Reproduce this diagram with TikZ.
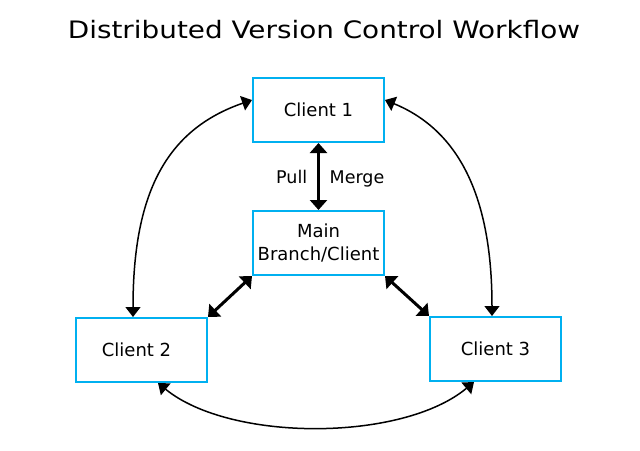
\documentclass[tikz,border=0pt]{standalone}
\usepackage{fontspec}
\setmainfont{DejaVu Sans}
\usetikzlibrary{arrows.meta,calc}
\definecolor{boxblue}{HTML}{00B0F0}
\begin{document}
\begin{tikzpicture}[x=1pt,y=-1pt,
  box/.style={draw=boxblue, line width=2pt, minimum width=131pt, minimum height=64pt,
    inner sep=0pt, font=\fontsize{18}{23}\selectfont, align=center},
  curvearrow/.style={line width=1.5pt, {Triangle[length=10pt,width=15pt]}-{Triangle[length=10pt,width=15pt]}},
  boldarrow/.style={line width=3pt, {Triangle[length=10pt,width=17pt]}-{Triangle[length=10pt,width=17pt]}},
  lbl/.style={inner sep=0pt, font=\fontsize{17.5}{20}\selectfont}]
\useasboundingbox (0,0) rectangle (640,450);
\node[anchor=base, inner sep=0pt, font=\fontsize{24}{28}\selectfont] (title) at (324,38.3) {\scalebox{1.16}[1]{Distributed Version Control Workflow}};
\node[box] (c1) at (318.5,110) {Client 1};
\node[box] (main) at (318.5,243) {Main\\Branch/Client};
\node[box] (c2) at (141.5,350) {Client 2\hspace*{10pt}};
\node[box] (c3) at (495.5,349) {Client 3};
% pull / merge
\draw[boldarrow] (c1.south) -- (main.north);
\node[lbl, anchor=base east] (pull) at (307.5,183) {Pull};
\node[lbl, anchor=base west] (merge) at (329.5,183) {Merge};
% main to clients
\draw[boldarrow] (main.south west) -- (c2.north east);
\draw[boldarrow] (main.south east) -- (c3.north west);
% curved connectors
\draw[curvearrow] ([yshift=10pt]c1.west) .. controls (165,130) and (133,195) .. ([xshift=-8.5pt]c2.north);
\draw[curvearrow] ([yshift=10pt]c1.east) .. controls (458,130) and (492,195) .. ([xshift=-3.5pt]c3.north);
\draw[curvearrow] ([xshift=16.5pt]c2.south) .. controls (230,442) and (402,442) .. ([xshift=-21.5pt]c3.south);
\end{tikzpicture}
\end{document}
